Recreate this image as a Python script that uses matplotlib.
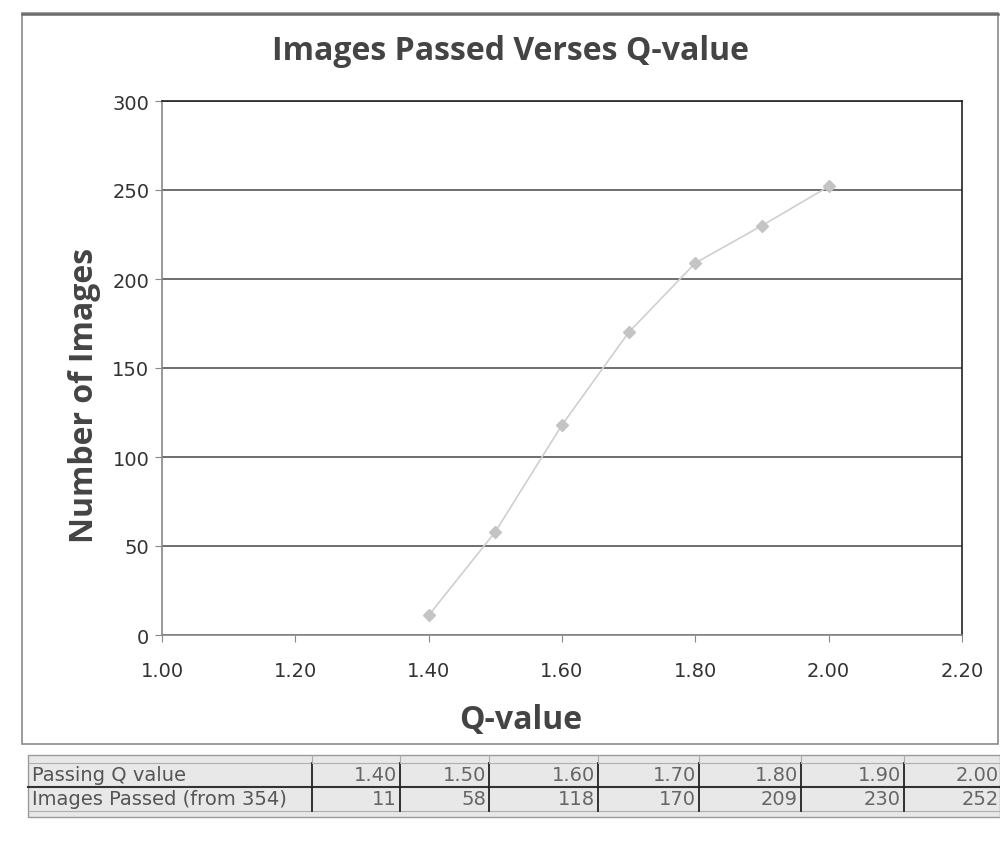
import matplotlib
matplotlib.use('Agg')
import matplotlib.pyplot as plt
from matplotlib.patches import Rectangle
from matplotlib.lines import Line2D

q_values = [1.40, 1.50, 1.60, 1.70, 1.80, 1.90, 2.00]
images_passed = [11, 58, 118, 170, 209, 230, 252]
row_labels = ['Passing Q value', 'Images Passed (from 354)']
x_ticks = [1.00, 1.20, 1.40, 1.60, 1.80, 2.00, 2.20]
y_ticks = [0, 50, 100, 150, 200, 250, 300]

plt.rcParams['font.family'] = ['Open Sans', 'DejaVu Sans']

fig = plt.figure(figsize=(10, 8.54), dpi=100)
W, H = 1000, 854

def fx(px):
    return px / W

def fy(py):
    return 1 - py / H

# outer chart frame
fig.add_artist(Rectangle((fx(22), fy(745)), fx(976), 731 / H, transform=fig.transFigure,
                         fill=False, edgecolor='#8a8a8a', lw=1.2))
fig.add_artist(Line2D([fx(22), fx(998)], [fy(15), fy(15)], transform=fig.transFigure,
                      color='#6a6a6a', lw=1.8))

ax = fig.add_axes([fx(162), fy(636), fx(800), (636 - 102) / H])
ax.plot(q_values, images_passed, color='#cfcfcf', lw=1.2, marker='D', ms=6,
        markerfacecolor='#c4c4c4', markeredgecolor='#c4c4c4', zorder=3)
ax.set_xlim(1.0, 2.2)
ax.set_ylim(0, 300)
ax.set_xticks(x_ticks)
ax.set_xticklabels([f'{v:.2f}' for v in x_ticks], fontsize=14, color='#333333',
                   family='DejaVu Sans')
ax.set_yticks(y_ticks)
ax.set_yticklabels([str(v) for v in y_ticks], fontsize=14, color='#333333',
                   family='DejaVu Sans')
ax.yaxis.grid(True, color='#555555', lw=1.2)
ax.set_axisbelow(True)
for s in ax.spines.values():
    s.set_color('#222222')
    s.set_linewidth(1.2)
ax.spines['left'].set_color('#888888')
ax.spines['bottom'].set_color('#888888')
ax.tick_params(axis='x', direction='out', length=5, color='#888888', pad=14)
ax.tick_params(axis='y', direction='out', length=5, color='#888888', pad=4)

fig.text(fx(511), fy(52), 'Images Passed Verses Q-value', fontsize=23, fontweight='bold',
         color='#444444', ha='center', va='center')
fig.text(fx(521), fy(720), 'Q-value', fontsize=23, fontweight='bold',
         color='#444444', ha='center', va='center')
fig.text(fx(85), fy(395), 'Number of Images', fontsize=23, fontweight='bold',
         color='#444444', ha='center', va='center', rotation=90)

# data table below the chart
tab = fig.add_axes([0, 0, 1, 1])
tab.set_xlim(0, W)
tab.set_ylim(H, 0)
tab.axis('off')
tab.add_patch(Rectangle((28, 756), 972, 62, facecolor='#e8e8e8', edgecolor='#9a9a9a', lw=1))
col_edges = [312, 400, 489, 598, 699, 801, 904, 1000]
row_tops = [764, 788]
tab.plot([28, 1000], [788, 788], color='#333333', lw=1.5)
tab.plot([28, 1000], [764, 764], color='#b0b0b0', lw=0.8)
tab.plot([28, 1000], [812, 812], color='#b0b0b0', lw=0.8)
for x in col_edges[:-1]:
    tab.plot([x, x], [764, 812], color='#222222', lw=1.3)
    tab.plot([x, x], [756, 764], color='#aaaaaa', lw=0.8)
for r, top in enumerate(row_tops):
    tab.text(32, top + 12, row_labels[r], fontsize=14, color='#555555', va='center', ha='left',
             family='DejaVu Sans')
for i in range(len(q_values)):
    right = col_edges[i + 1] - 3 if i < len(q_values) - 1 else 999
    tab.text(right, row_tops[0] + 12, f'{q_values[i]:.2f}', fontsize=14, color='#666666',
             va='center', ha='right', family='DejaVu Sans')
    tab.text(right, row_tops[1] + 12, str(images_passed[i]), fontsize=14, color='#666666',
             va='center', ha='right', family='DejaVu Sans')

fig.savefig('out.png', dpi=100)
